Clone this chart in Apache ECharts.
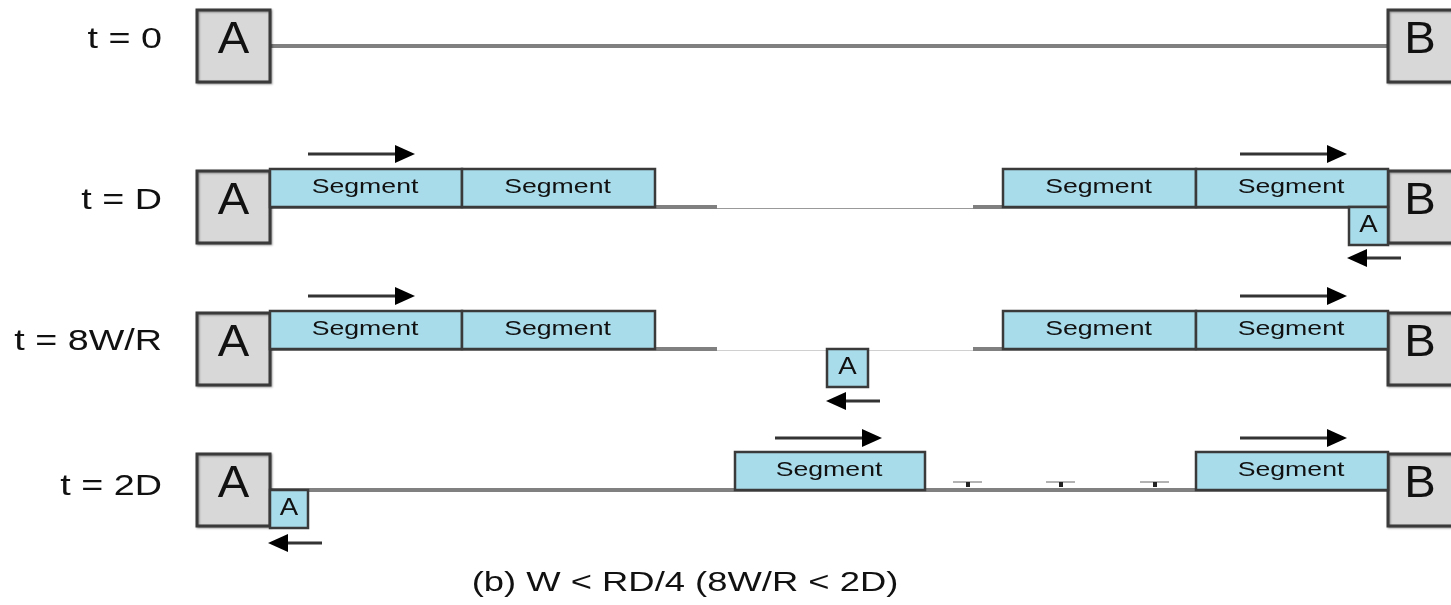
<!DOCTYPE html>
<html>
<head>
<meta charset="utf-8">
<script src="https://cdn.jsdelivr.net/npm/echarts@6/dist/echarts.min.js"></script>
<style>
html,body{margin:0;padding:0;background:#fff;}
#chart{width:1451px;height:605px;}
</style>
</head>
<body>
<div id="chart"></div>
<script>
// Rows of the timeline diagram
var rowLabels = ['t = 0', 't = D', 't = 8W/R', 't = 2D'];
var rowLineY = [46, 207, 349, 490];
var rowLabelY = [40, 201, 342, 487];
// Endpoint boxes: [rowIndex, x0, x1, letter]
var endBoxes = [
  [0, 197, 270, 'A'], [0, 1388, 1466, 'B'],
  [1, 197, 270, 'A'], [1, 1388, 1466, 'B'],
  [2, 197, 270, 'A'], [2, 1388, 1466, 'B'],
  [3, 197, 270, 'A'], [3, 1388, 1466, 'B']
];
// Data segments: [rowIndex, x0, x1]
var segments = [
  [1, 270, 462], [1, 462, 655], [1, 1003, 1196], [1, 1196, 1388],
  [2, 270, 462], [2, 462, 655], [2, 1003, 1196], [2, 1196, 1388],
  [3, 735, 925], [3, 1196, 1388]
];
// ACK boxes: [rowIndex, x0, x1]
var acks = [[1, 1349, 1388], [2, 827, 868], [3, 270, 308]];
// Arrows: [rowIndex, xFrom, xTo, offsetFromLine]
var arrows = [
  [1, 308, 415, -53], [1, 1240, 1347, -53], [1, 1401, 1347, 51],
  [2, 308, 415, -53], [2, 1240, 1347, -53], [2, 880, 826, 52],
  [3, 775, 882, -52], [3, 1240, 1347, -52], [3, 322, 268, 53]
];
// Gaps in the line: [rowIndex, x0, x1]
var gaps = [[1, 717, 973], [2, 717, 973]];
// Small tick marks: [rowIndex, x]
var ticks = [[3, 968], [3, 1061], [3, 1155]];
var caption = '(b) W < RD/4 (8W/R < 2D)';
var captionPos = [685, 583];

var chart = echarts.init(document.getElementById('chart'));
var lineColor = '#808080';
var edge = '#3a3a3a';

function txt(x, y, text, size, scaleX, align) {
  return {
    type: 'text', x: x, y: y, scaleX: scaleX || 1, originX: 0, originY: 0,
    style: {text: text, x: 0, y: 0, fill: '#111', font: size + 'px "Liberation Sans", Arial, sans-serif',
      align: align || 'center', verticalAlign: 'middle'}
  };
}

var option = {
  animation: false,
  grid: {left: 0, right: 0, top: 0, bottom: 0},
  xAxis: {type: 'value', min: 0, max: 1451, show: false},
  yAxis: {type: 'value', min: 0, max: 605, inverse: true, show: false},
  series: [
    { // base lines
      type: 'custom', z: 1,
      data: rowLineY.map(function (y, i) { return [i, 270, 1388]; }),
      renderItem: function (params, api) {
        var y = rowLineY[api.value(0)];
        var p0 = api.coord([api.value(1), y]), p1 = api.coord([api.value(2), y]);
        return {type: 'line', shape: {x1: p0[0], y1: p0[1], x2: p1[0], y2: p1[1]},
          style: {stroke: lineColor, lineWidth: 4}};
      }
    },
    { // gaps
      type: 'custom', z: 2, data: gaps,
      renderItem: function (params, api) {
        var y = rowLineY[api.value(0)];
        var p0 = api.coord([api.value(1), y]), p1 = api.coord([api.value(2), y]);
        return {type: 'group', children: [
          {type: 'rect', shape: {x: p0[0], y: p0[1] - 4, width: p1[0] - p0[0], height: 8}, style: {fill: '#fff'}},
          {type: 'line', shape: {x1: p0[0], y1: p0[1] + 1.5, x2: p1[0], y2: p1[1] + 1.5},
            style: {stroke: api.value(0) === 1 ? '#999' : '#d0d0d0', lineWidth: 1.2}}
        ]};
      }
    },
    { // tick marks
      type: 'custom', z: 3, data: ticks,
      renderItem: function (params, api) {
        var y = rowLineY[api.value(0)];
        var p = api.coord([api.value(1), y]);
        return {type: 'group', children: [
          {type: 'line', shape: {x1: p[0] - 15, y1: p[1] - 8, x2: p[0] + 14, y2: p[1] - 8}, style: {stroke: '#666', lineWidth: 1}},
          {type: 'rect', shape: {x: p[0] - 2, y: p[1] - 8, width: 4, height: 5}, style: {fill: '#222'}}
        ]};
      }
    },
    { // endpoint boxes
      type: 'custom', z: 4, data: endBoxes,
      renderItem: function (params, api) {
        var y = rowLineY[api.value(0)];
        var p0 = api.coord([api.value(1), y - 36]), p1 = api.coord([api.value(2), y + 36]);
        var cx = (p0[0] + p1[0]) / 2;
        if (api.value(3) === 'B') cx = p0[0] + 32;
        return {type: 'group', children: [
          {type: 'rect', shape: {x: p0[0], y: p0[1], width: p1[0] - p0[0], height: p1[1] - p0[1]},
            style: {fill: '#d8d8d8', stroke: edge, lineWidth: 3, shadowColor: 'rgba(0,0,0,0.35)', shadowBlur: 2, shadowOffsetX: 1, shadowOffsetY: 1}},
          txt(cx, (p0[1] + p1[1]) / 2 - 5, api.value(3), 45, 1.05)
        ]};
      }
    },
    { // segments
      type: 'custom', z: 5, data: segments,
      renderItem: function (params, api) {
        var y = rowLineY[api.value(0)];
        var p0 = api.coord([api.value(1), y - 38]), p1 = api.coord([api.value(2), y]);
        return {type: 'group', children: [
          {type: 'rect', shape: {x: p0[0], y: p0[1], width: p1[0] - p0[0], height: p1[1] - p0[1]},
            style: {fill: '#a9dcea', stroke: edge, lineWidth: 2.5}},
          txt((p0[0] + p1[0]) / 2 - 1, (p0[1] + p1[1]) / 2 - 1, 'Segment', 21, 1.27)
        ]};
      }
    },
    { // ack boxes
      type: 'custom', z: 6, data: acks,
      renderItem: function (params, api) {
        var y = rowLineY[api.value(0)];
        var p0 = api.coord([api.value(1), y]), p1 = api.coord([api.value(2), y + 38]);
        return {type: 'group', children: [
          {type: 'rect', shape: {x: p0[0], y: p0[1], width: p1[0] - p0[0], height: p1[1] - p0[1]},
            style: {fill: '#a9dcea', stroke: edge, lineWidth: 2.5}},
          txt((p0[0] + p1[0]) / 2, (p0[1] + p1[1]) / 2 - 1, 'A', 24, 1.15)
        ]};
      }
    },
    { // arrows
      type: 'custom', z: 7, data: arrows,
      renderItem: function (params, api) {
        var y = rowLineY[api.value(0)] + api.value(3);
        var a = api.coord([api.value(1), y]), b = api.coord([api.value(2), y]);
        var dir = b[0] > a[0] ? 1 : -1;
        var hx = b[0] - dir * 20;
        return {type: 'group', children: [
          {type: 'line', shape: {x1: a[0], y1: a[1], x2: hx, y2: b[1]}, style: {stroke: '#333', lineWidth: 3}},
          {type: 'polygon', shape: {points: [[b[0], b[1]], [hx, b[1] - 9], [hx, b[1] + 9]]}, style: {fill: '#000'}}
        ]};
      }
    },
    { // row labels
      type: 'custom', z: 8, data: rowLabels.map(function (l, i) { return [i, 162]; }),
      renderItem: function (params, api) {
        var i = api.value(0);
        var p = api.coord([api.value(1), rowLabelY[i]]);
        return txt(p[0], p[1], rowLabels[i], 29, 1.3, 'right');
      }
    },
    { // caption
      type: 'custom', z: 8, data: [[captionPos[0], captionPos[1]]],
      renderItem: function (params, api) {
        var p = api.coord([api.value(0), api.value(1)]);
        return txt(p[0], p[1], caption, 28, 1.3, 'center');
      }
    }
  ]
};
chart.setOption(option);
</script>
</body>
</html>
